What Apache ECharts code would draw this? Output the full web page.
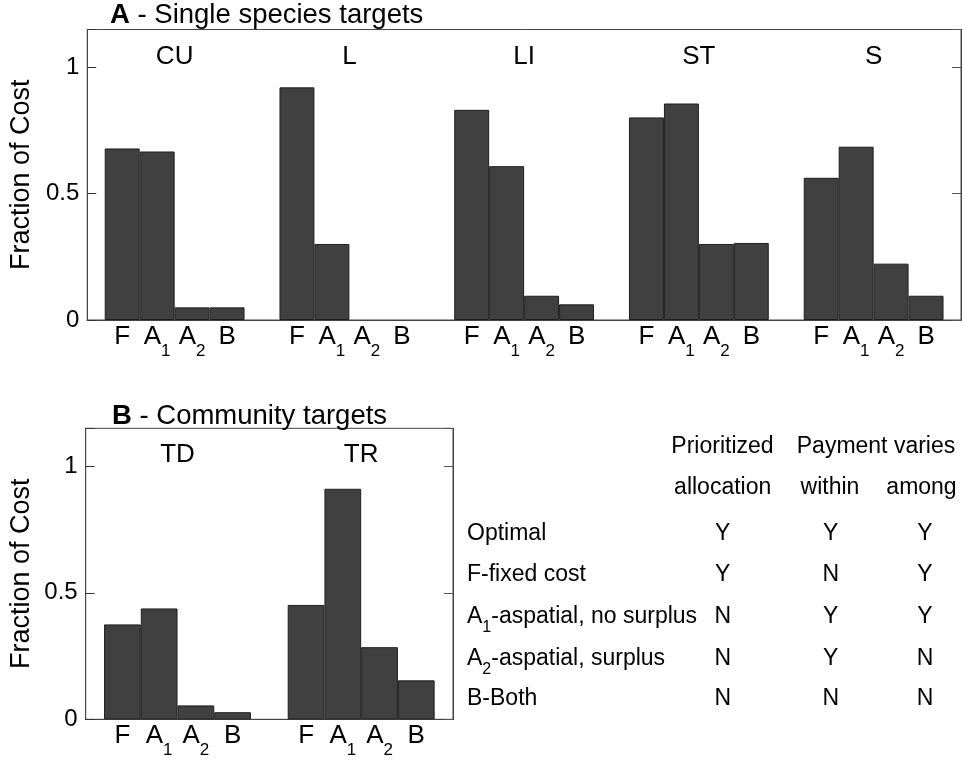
<!DOCTYPE html>
<html>
<head>
<meta charset="utf-8">
<script src="https://cdn.jsdelivr.net/npm/echarts@6/dist/echarts.min.js"></script>
<style>
  html, body { margin: 0; padding: 0; background: #fff; }
  #chart { width: 964px; height: 761px; }
</style>
</head>
<body>
<div id="chart"></div>
<script>
// panel A - single species targets
const groupsA = ['CU', 'L', 'LI', 'ST', 'S']
const fixedA = [0.679, 0.921, 0.832, 0.802, 0.563]
const aspatialA = [0.667, 0.301, 0.609, 0.857, 0.686]
const surplusA = [0.050, 0, 0.096, 0.301, 0.223]
const bothA = [0.050, 0, 0.062, 0.305, 0.096]

// panel B - community targets
const groupsB = ['TD', 'TR']
const fixedB = [0.375, 0.452]
const aspatialB = [0.438, 0.911]
const surplusB = [0.055, 0.285]
const bothB = [0.028, 0.154]

const methods = ['F', 'A1', 'A2', 'B']
const yTicks = [0, 0.5, 1]

// table at the lower right
const tableHeader1 = ['Prioritized', 'Payment varies']
const tableHeader2 = ['allocation', 'within', 'among']
const tableRows = ['Optimal', 'F-fixed cost', 'A1-aspatial, no surplus', 'A2-aspatial, surplus', 'B-Both']
const tableValues = [
  ['Y', 'Y', 'Y'],
  ['Y', 'N', 'Y'],
  ['N', 'Y', 'Y'],
  ['N', 'Y', 'N'],
  ['N', 'N', 'N']
]

const FONT = '"Liberation Sans", Arial, Helvetica, sans-serif'
const BAR = '#404040'
const EDGE = '#1e1e1e'

const richLabel = {
  n : { fontSize : 26, lineHeight : 46, color : '#000', fontFamily : FONT },
  s : { fontSize : 17, padding : [29, 0, 0, 0], color : '#000', fontFamily : FONT }
}

const methodText = m => m.length > 1 ? '{n|' + m[0] + '}{s|' + m[1] + '}' : '{n|' + m + '}'

const makeSeries = (gridNo, values) => values.map((data, i) => ({
  name : methods[i],
  type : 'bar',
  xAxisIndex : gridNo * 2,
  yAxisIndex : gridNo * 2,
  // zero bars: no outline, only the label
  data : data.map(v => v === 0 ? { value : v, itemStyle : { borderWidth : 0, color : 'rgba(0,0,0,0)' } } : v),
  barGap : '0%',
  barCategoryGap : '20%',
  itemStyle : { color : BAR, borderColor : EDGE, borderWidth : 1 },
  label : {
    show : true,
    position : 'bottom',
    distance : -6,
    formatter : () => methodText(methods[i]),
    rich : richLabel
  },
  emphasis : { disabled : true },
  animation : false
}))

const xAxes = (gridIndex, cats) => [
  {
    type : 'category', gridIndex, data : cats, position : 'bottom',
    axisLine : { show : true, lineStyle : { color : '#000', width : 1 } },
    axisTick : { show : false }, axisLabel : { show : false }
  },
  {
    type : 'category', gridIndex, data : cats, position : 'top',
    axisLine : { show : true, lineStyle : { color : '#444', width : 1 } },
    axisTick : { show : false },
    axisLabel : { inside : true, margin : 14, fontSize : 26, color : '#000', fontFamily : FONT }
  }
]

const yAxes = gridIndex => [
  {
    type : 'value', gridIndex, min : 0, max : 1.15, interval : 0.5, position : 'left',
    name : 'Fraction of Cost', nameLocation : 'middle', nameGap : 51,
    nameTextStyle : { fontSize : 27, color : '#000', fontFamily : FONT },
    axisLine : { show : true, lineStyle : { color : '#444' } },
    axisTick : { show : true, inside : true, length : 9, lineStyle : { color : '#333' } },
    splitLine : { show : false },
    axisLabel : {
      margin : 8, fontSize : 24, color : '#000', fontFamily : FONT,
      formatter : v => yTicks.includes(v) ? String(v) : ''
    }
  },
  {
    type : 'value', gridIndex, min : 0, max : 1.15, interval : 0.5, position : 'right',
    axisLine : { show : true, lineStyle : { color : '#444' } },
    axisTick : { show : true, inside : true, length : 9, lineStyle : { color : '#555' } },
    splitLine : { show : false },
    axisLabel : { show : false }
  }
]

const graphics = []
const txt = (text, x, y, align) => graphics.push({
  type : 'text',
  style : {
    text, x, y,
    textAlign : align || 'center',
    textVerticalAlign : 'middle',
    fontSize : 23, fontFamily : FONT, fill : '#000',
    rich : {
      t : { fontSize : 23, lineHeight : 36, fontFamily : FONT, fill : '#000' },
      s : { fontSize : 16, padding : [22, 0, 0, 0], fontFamily : FONT, fill : '#000' }
    }
  }
})

const colX = [722.7, 830.7, 925]
txt(tableHeader1[0], 722.5, 446.7)
txt(tableHeader1[1], 876, 446.7)
tableHeader2.forEach((h, i) => txt(h, [722.7, 830, 921.5][i], 488))
const rowY = [533.3, 575, 616.7, 658.3, 698.3]
tableRows.forEach((r, i) => {
  const m = r.match(/^A(\d)(.*)$/)
  const text = m ? '{t|A}{s|' + m[1] + '}{t|' + m[2] + '}' : '{t|' + r + '}'
  txt(text, 467, rowY[i], 'left')
  tableValues[i].forEach((v, j) => txt(v, colX[j], rowY[i]))
})

const chart = echarts.init(document.getElementById('chart'), null, { renderer : 'canvas' })
chart.setOption({
  backgroundColor : '#fff',
  animation : false,
  textStyle : { fontFamily : FONT },
  title : [
    {
      text : '{b|A} - Single species targets', left : 110, top : 1, padding : 0,
      textStyle : { fontSize : 27.5, fontWeight : 'normal', color : '#000',
        rich : { b : { fontSize : 27.5, fontWeight : 'bold', color : '#000', fontFamily : FONT } } }
    },
    {
      text : '{b|B} - Community targets', left : 112, top : 402, padding : 0,
      textStyle : { fontSize : 27.5, fontWeight : 'normal', color : '#000',
        rich : { b : { fontSize : 27.5, fontWeight : 'bold', color : '#000', fontFamily : FONT } } }
    }
  ],
  grid : [
    { left : 85.7, top : 29.5, right : 3, height : 290.5, show : true, borderColor : '#444', borderWidth : 1 },
    { left : 85.7, top : 428.3, width : 367.3, height : 291, show : true, borderColor : '#444', borderWidth : 1 }
  ],
  xAxis : [...xAxes(0, groupsA), ...xAxes(1, groupsB)],
  yAxis : [...yAxes(0), ...yAxes(1)],
  series : [
    ...makeSeries(0, [fixedA, aspatialA, surplusA, bothA]),
    ...makeSeries(1, [fixedB, aspatialB, surplusB, bothB])
  ],
  graphic : graphics
})
</script>
</body>
</html>
